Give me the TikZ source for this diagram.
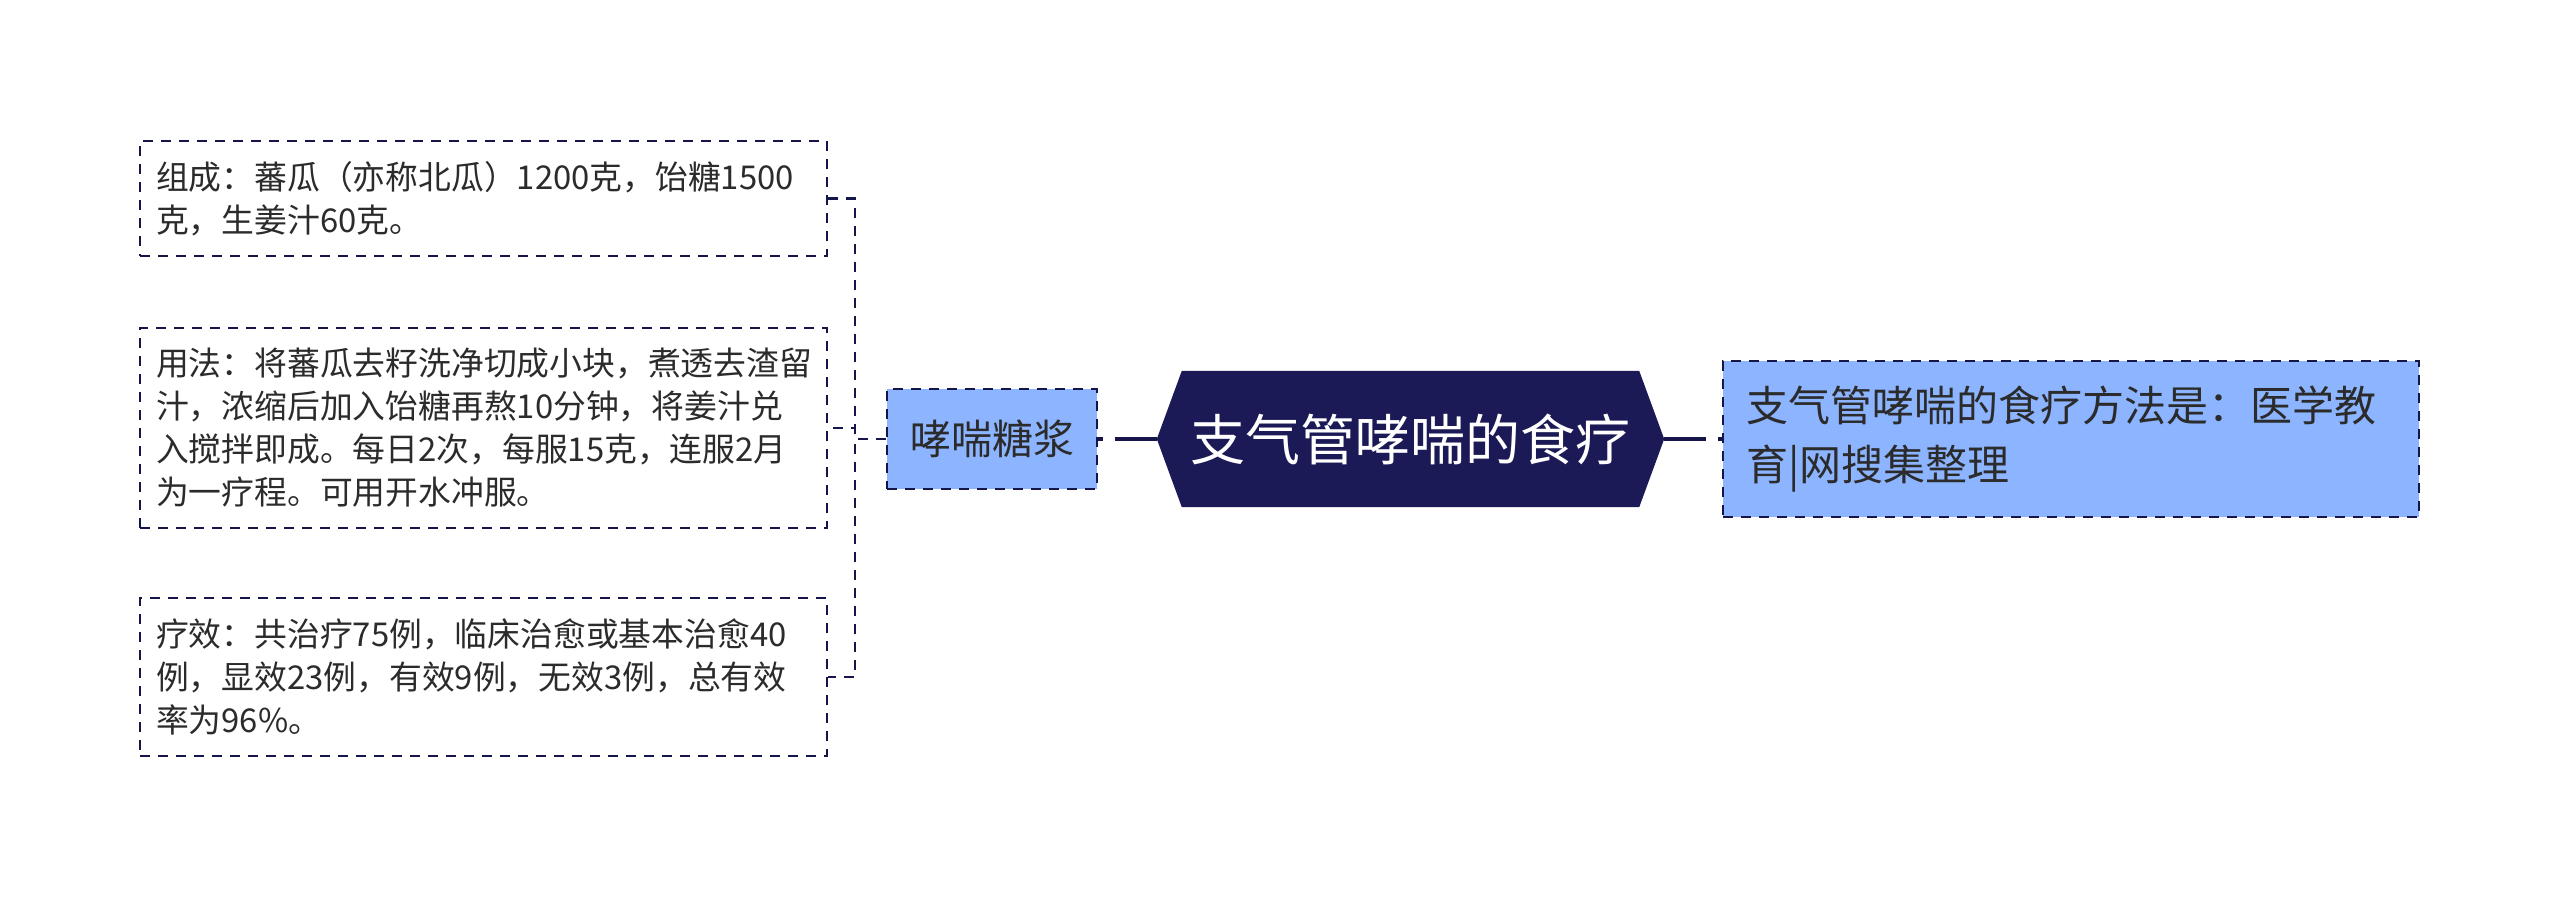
\documentclass[tikz,border=0pt]{standalone}
\usepackage{fontspec}
\setmainfont{Noto Sans CJK SC}
\usetikzlibrary{backgrounds}
\definecolor{navy}{HTML}{1B1A57}
\definecolor{lnavy}{HTML}{15154A}
\definecolor{lblue}{HTML}{8DB4FF}
\definecolor{txtc}{HTML}{2B2B2B}
\begin{document}
\begin{tikzpicture}[x=1pt,y=-1pt,
  leafbox/.style={draw=lnavy, line width=2.5pt, dash pattern=on 10pt off 8pt, fill=white,
    text=txtc, align=left, text width=655pt, inner xsep=16pt, inner ysep=0pt,
    font=\fontsize{32.8}{43}\selectfont},
  bluebox/.style={draw=lnavy, line width=2.5pt, dash pattern=on 10pt off 8pt, fill=lblue,
    text=txtc, inner sep=0pt},
  mainbox/.style={text=white, inner sep=0pt, minimum width=457pt, minimum height=136pt,
    font=\fontsize{55}{66}\selectfont},
  thinconn/.style={draw=lnavy, line width=2.5pt, dash pattern=on 10pt off 8pt},
  thickconn/.style={draw=lnavy, line width=3.2pt, dash pattern=on 42pt off 12pt}]
\useasboundingbox (0,0) rectangle (2560,897);

% leaf boxes
\node[leafbox, minimum height=115pt] (b1) at (483.5,198.5)
  {组成：蕃瓜（亦称北瓜）1200克，饴糖1500\\克，生姜汁60克。};
\node[leafbox, minimum height=200pt] (b2) at (483.5,428)
  {用法：将蕃瓜去籽洗净切成小块，煮透去渣留\\汁，浓缩后加入饴糖再熬10分钟，将姜汁兑\\入搅拌即成。每日2次，每服15克，连服2月\\为一疗程。可用开水冲服。};
\node[leafbox, minimum height=158pt] (b3) at (483.5,677)
  {疗效：共治疗75例，临床治愈或基本治愈40\\例，显效23例，有效9例，无效3例，总有效\\率为96\%。};

% middle node
\node[bluebox, minimum width=210pt, minimum height=100pt,
  font=\fontsize{41}{50}\selectfont] (mid) at (992,439) {哮喘糖浆};

% main node
\node[mainbox] (main) at (1410.5,439) {支气管哮喘的食疗};
\path (main.west) ++(-25,0) coordinate (mainL);
\path (main.east) ++(25,0) coordinate (mainR);
\begin{scope}[on background layer]
\fill[navy] (main.north west) -- (main.north east) -- (mainR) -- (main.south east)
  -- (main.south west) -- (mainL) -- cycle;
\end{scope}

% right node
\node[bluebox, minimum width=696pt, minimum height=156pt, text width=650pt,
  inner xsep=23pt, align=left, font=\fontsize{42}{59}\selectfont] (r) at (2071,439)
  {支气管哮喘的食疗方法是：医学教\\育|网搜集整理};

% connectors
\draw[thickconn] (mainL) -- (mid.east);
\draw[thickconn] (mainR) -- (r.west);
\draw[thinconn] (mid.west) -- ++(-31,0) |- (b1.east);
\draw[thinconn] (mid.west) -- ++(-31,0) |- (b2.east);
\draw[thinconn] (mid.west) -- ++(-31,0) |- (b3.east);
\end{tikzpicture}
\end{document}
